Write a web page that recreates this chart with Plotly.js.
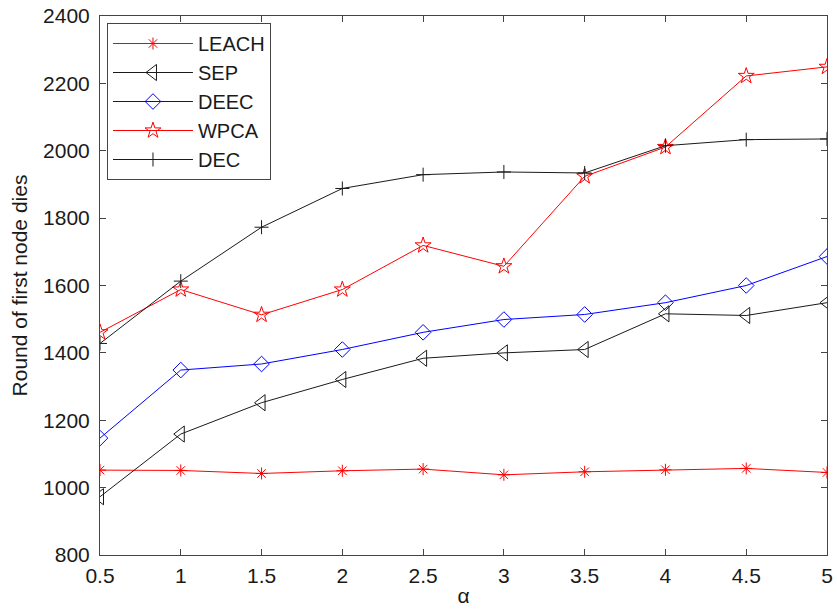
<!DOCTYPE html>
<html>
<head>
<meta charset="utf-8">
<script src="https://cdn.plot.ly/plotly-3.0.1.min.js"></script>
<style>html,body{margin:0;padding:0;background:#fff;}#chart{width:837px;height:613px;}</style>
</head>
<body>
<div id="chart"></div>
<script>
const alpha = [0.5, 1, 1.5, 2, 2.5, 3, 3.5, 4, 4.5, 5];
const leach = [1052, 1051, 1042, 1050, 1055, 1038, 1047, 1053, 1057, 1045];
const sep   = [973, 1159, 1252, 1321, 1384, 1400, 1410, 1516, 1511, 1549];
const deec  = [1147, 1349, 1367, 1410, 1461, 1499, 1514, 1549, 1600, 1686];
const wpca  = [1461, 1588, 1513, 1588, 1719, 1657, 1924, 2011, 2222, 2249];
const dec   = [1428, 1613, 1773, 1888, 1929, 1937, 1934, 2015, 2033, 2035];
const seriesNames = ['LEACH', 'SEP', 'DEEC', 'WPCA', 'DEC'];

const FONT = '"Liberation Sans", Arial, sans-serif';
function tr(name, y, color, symbol, size) {
  return {
    x: alpha, y: y, name: name, type: 'scatter', mode: 'lines+markers',
    line: {color: color, width: 1},
    marker: {symbol: symbol, size: size, color: color, line: {color: color, width: 1}}
  };
}
const data = [
  tr(seriesNames[0], leach, '#ff0000', 'asterisk-open', 10),
  tr(seriesNames[1], sep, '#1a1a1a', 'triangle-left-open', 14),
  tr(seriesNames[2], deec, '#0000ff', 'diamond-open', 12),
  tr(seriesNames[3], wpca, '#ff0000', 'star-open', 12),
  tr(seriesNames[4], dec, '#1a1a1a', 'cross-thin-open', 10)
];
const axisCommon = {
  showline: true, mirror: 'ticks', linecolor: '#444', linewidth: 1,
  ticks: 'inside', ticklen: 6, tickcolor: '#444', showgrid: false, zeroline: false,
  tickfont: {family: FONT, size: 21, color: '#1a1a1a'},
  automargin: false
};
const layout = {
  width: 837, height: 613,
  margin: {l: 100, r: 10, t: 16, b: 58},
  paper_bgcolor: '#fff', plot_bgcolor: '#fff',
  font: {family: FONT, color: '#1a1a1a'},
  showlegend: true,
  xaxis: Object.assign({}, axisCommon, {
    range: [0.5, 5], dtick: 0.5, tick0: 0.5, ticklabelstandoff: 2,
    title: {text: 'α', font: {family: FONT, size: 21}, standoff: 2}
  }),
  yaxis: Object.assign({}, axisCommon, {
    range: [800, 2400], dtick: 200, ticklabelstandoff: 5,
    title: {text: 'Round of first node dies', font: {family: FONT, size: 21}, standoff: 9}
  }),
  legend: {
    x: 0.0096, y: 0.987, xanchor: 'left', yanchor: 'top',
    bgcolor: '#fff', bordercolor: '#444', borderwidth: 1,
    font: {family: FONT, size: 20, color: '#1a1a1a'},
    tracegroupgap: 0, itemwidth: 80
  }
};
Plotly.newPlot('chart', data, layout, {displayModeBar: false, staticPlot: true});
</script>
</body>
</html>
